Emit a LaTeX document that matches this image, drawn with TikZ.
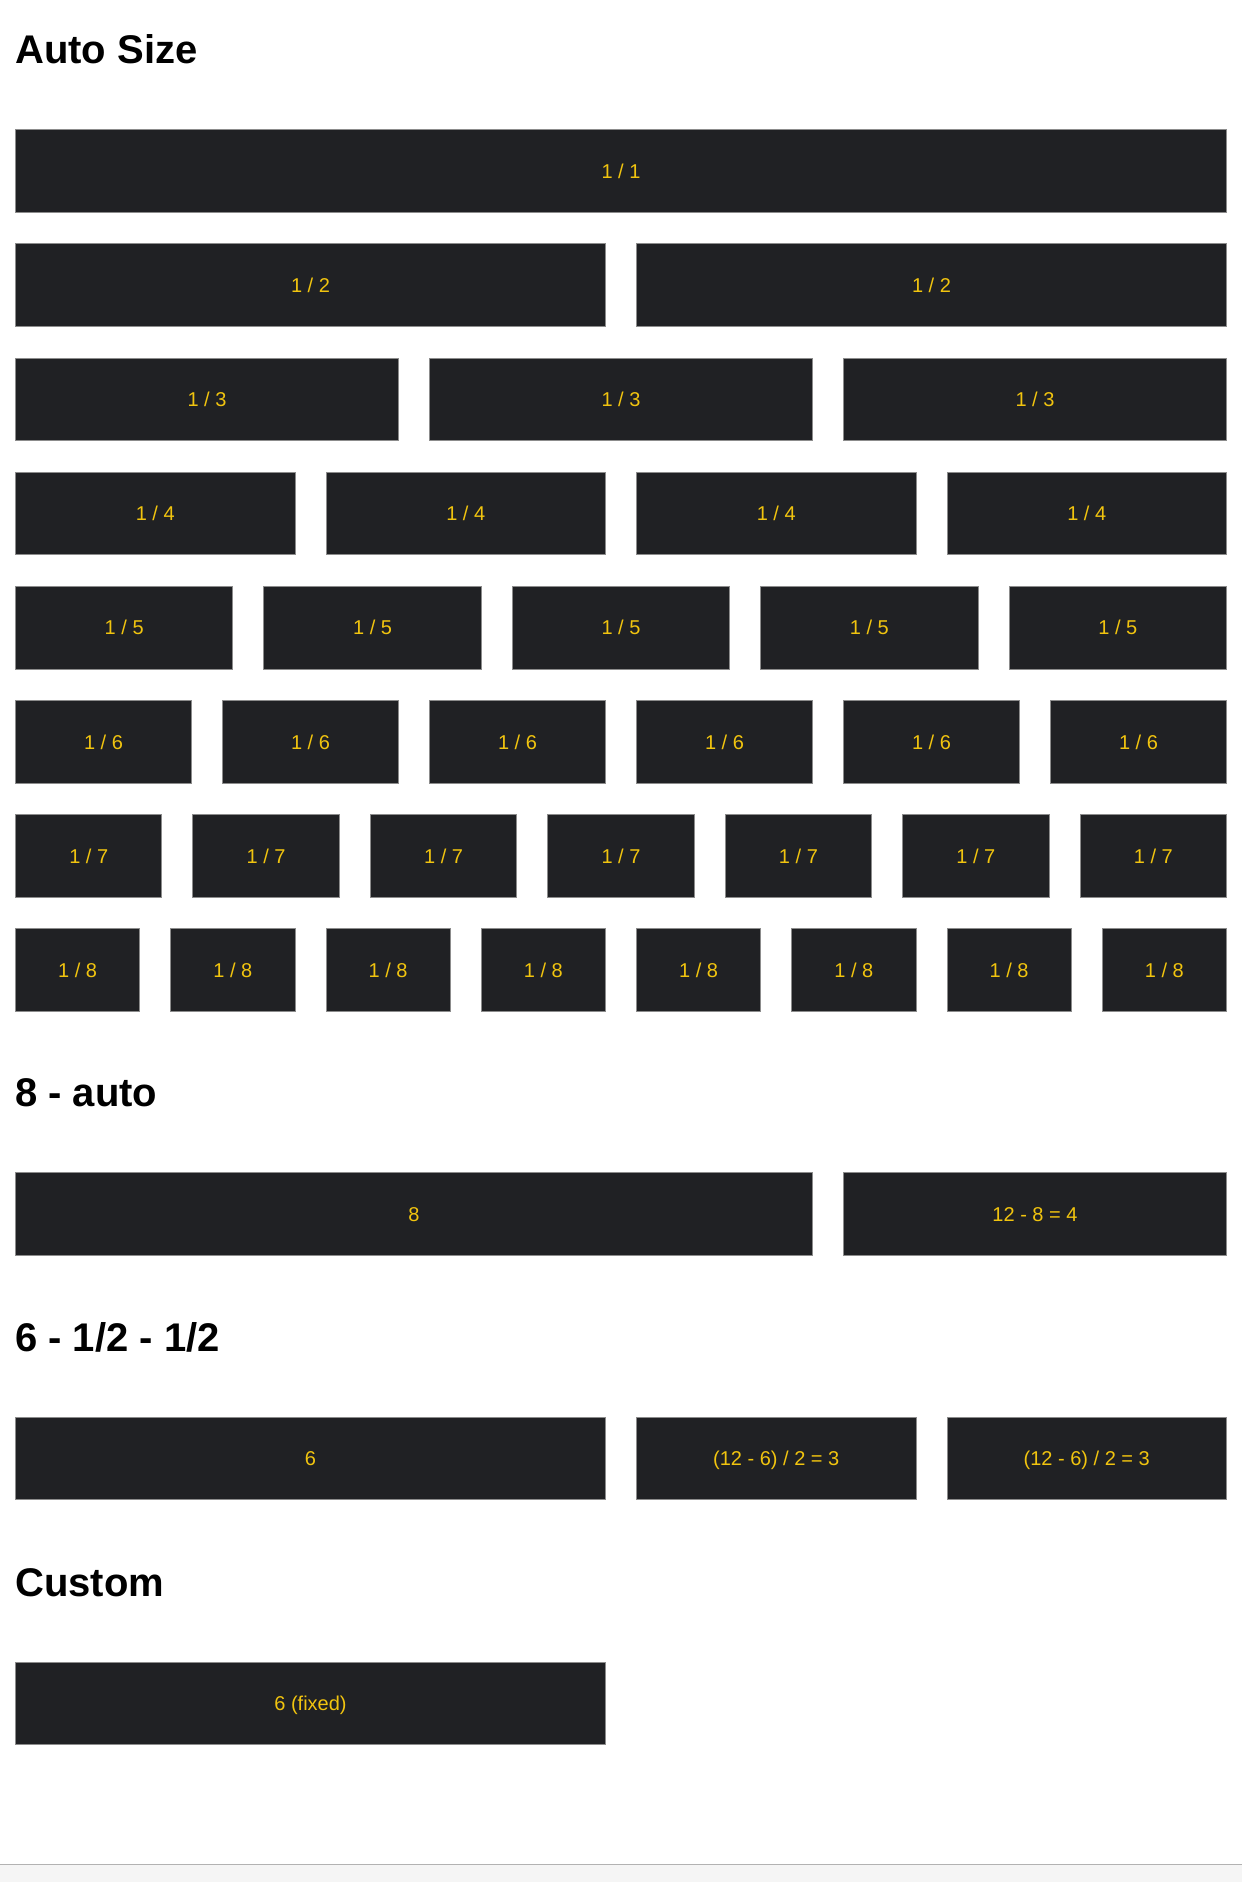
\documentclass[tikz,border=0pt]{standalone}
\usepackage{fontspec}
\setmainfont{Liberation Sans}
\definecolor{boxfill}{RGB}{32,33,36}
\definecolor{boxline}{RGB}{140,140,140}
\definecolor{gold}{RGB}{241,196,15}
\definecolor{barfill}{RGB}{245,245,245}
\definecolor{barline}{RGB}{178,178,178}
\begin{document}
\begin{tikzpicture}[x=1pt,y=-1pt,
  cell/.style={draw=boxline, fill=boxfill, line width=1pt, minimum height=82.6pt,
    inner sep=0pt, outer sep=0pt, text=gold, font=\fontsize{20}{24}\selectfont,
    text height=14.3pt, text depth=0pt},
  head/.style={anchor=base west, inner sep=0pt, text=black,
    font=\fontsize{40}{48}\selectfont\bfseries}]
\fill[white] (0,0) rectangle (1242,1882);
\path[use as bounding box] (0,0) rectangle (1242,1882);

% Auto Size
\node[head] (h1) at (15,63.3) {Auto Size};
\foreach \n in {1,...,8}{
  \pgfmathsetmacro{\w}{(1212-(\n-1)*30)/\n}
  \pgfmathsetmacro{\ww}{\w-1}
  \pgfmathsetmacro{\yc}{129.3+114.15*(\n-1)+41.8}
  \pgfmathtruncatemacro{\last}{\n-1}
  \foreach \i in {0,...,\last}{
    \pgfmathsetmacro{\xc}{15+\w/2+\i*(\w+30)}
    \node[cell, minimum width=\ww pt] (r\n c\i) at (\xc,\yc) {1 / \n};
  }
}

% 8 - auto
\node[head] (h2) at (15,1106.7) {8 - auto};
\node[cell, minimum width=797pt] (a8) at (414,1214.1) {8};
\node[cell, minimum width=383pt] (a4) at (1035,1214.1) {12 - 8 = 4};

% 6 - 1/2 - 1/2
\node[head] (h3) at (15,1351.7) {6 - 1/2 - 1/2};
\node[cell, minimum width=590pt] (b6) at (310.5,1458.5) {6};
\node[cell, minimum width=279.5pt] (b3a) at (776.25,1458.5) {(12 - 6) / 2 = 3};
\node[cell, minimum width=279.5pt] (b3b) at (1086.75,1458.5) {(12 - 6) / 2 = 3};

% Custom
\node[head] (h4) at (15,1596) {Custom};
\node[cell, minimum width=590pt] (c6) at (310.5,1703.5) {6 (fixed)};

% bottom bar
\fill[barfill] (0,1864.8) rectangle (1242,1882);
\draw[barline, line width=1pt] (0,1864.3) -- (1242,1864.3);
\end{tikzpicture}
\end{document}
